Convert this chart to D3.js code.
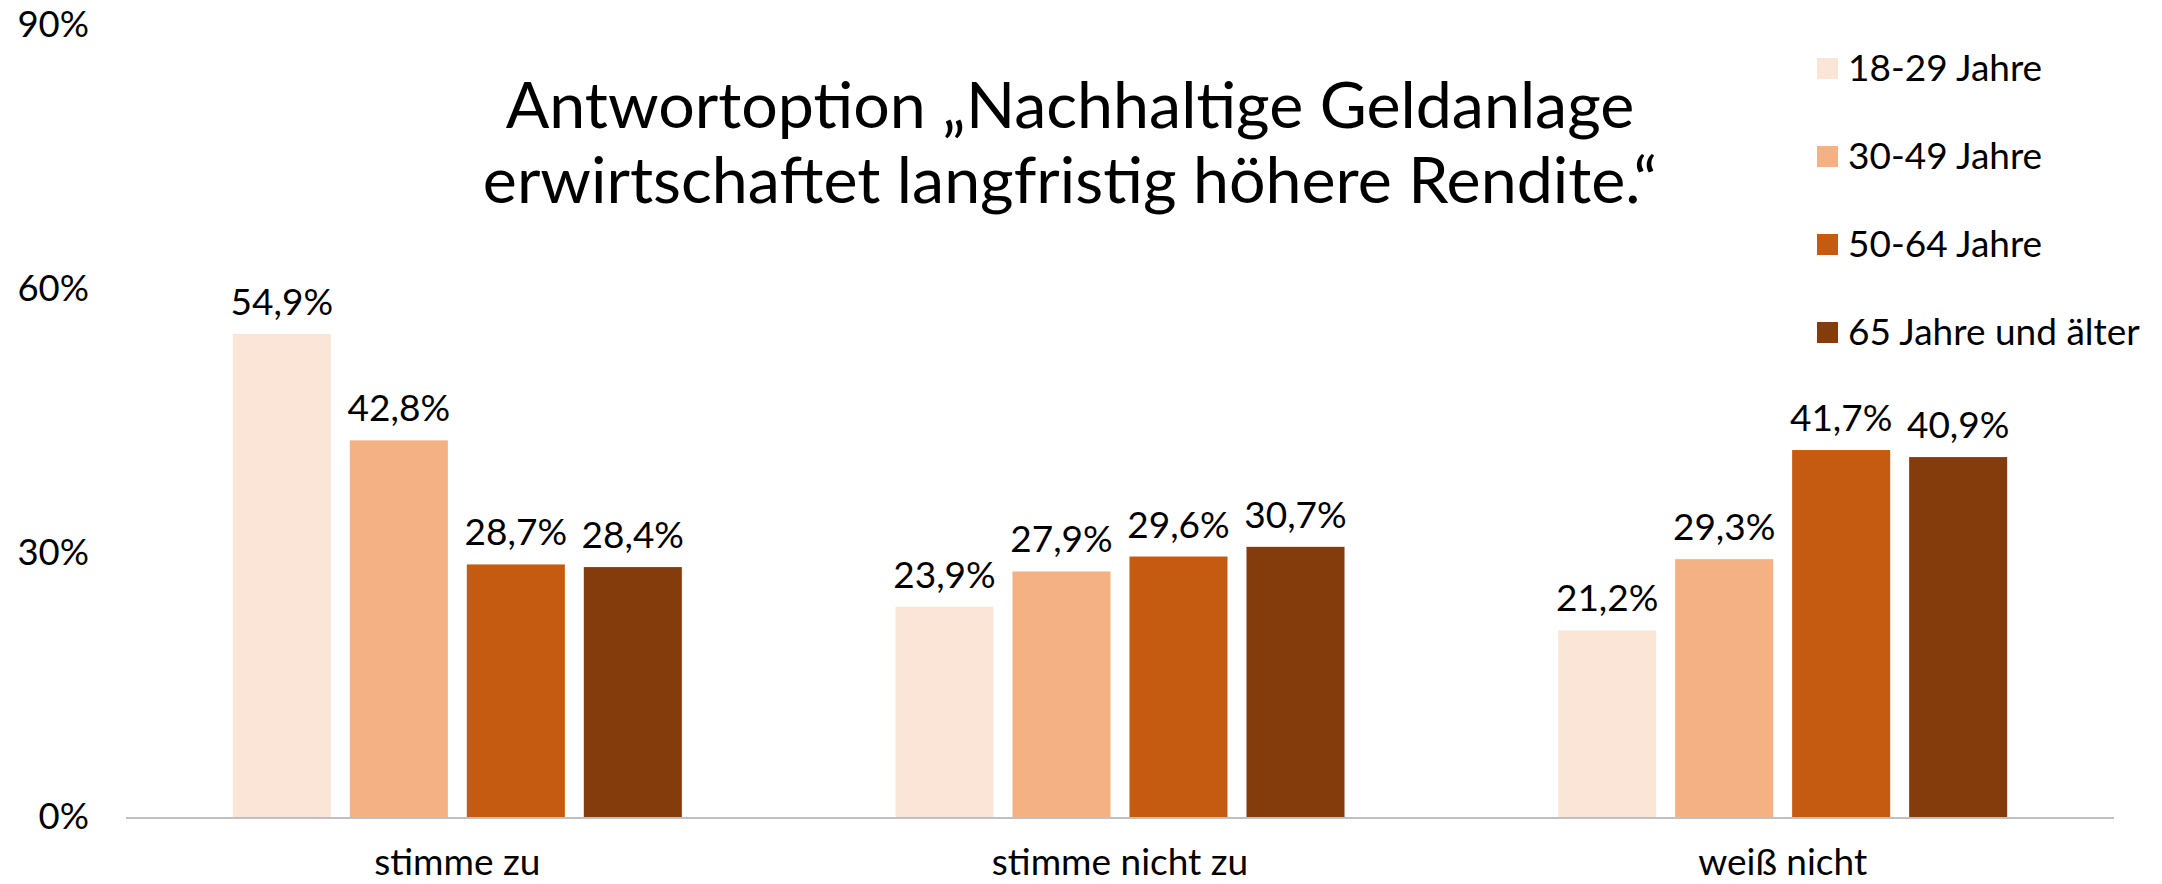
<!DOCTYPE html>
<html>
<head>
<meta charset="utf-8">
<script src="https://cdn.jsdelivr.net/npm/d3@7"></script>
<style>
  body { margin: 0; background: #fff; }
  svg { display: block; font-family: Lato, "Open Sans", sans-serif; }
</style>
</head>
<body>
<script>
// Grouped bar chart: answer option by age group

const width = 2162;
const height = 884;

const categories = ["stimme zu", "stimme nicht zu", "weiß nicht"];
const series = ["18-29 Jahre", "30-49 Jahre", "50-64 Jahre", "65 Jahre und älter"];
const colors = ["#FBE5D6", "#F4B183", "#C55A11", "#843C0C"];

const v1829 = [54.9, 23.9, 21.2];
const v3049 = [42.8, 27.9, 29.3];
const v5064 = [28.7, 29.6, 41.7];
const v65 = [28.4, 30.7, 40.9];

const yTicks = [0, 30, 60, 90];
const titleLines = ["Antwortoption „Nachhaltige Geldanlage", "erwirtschaftet langfristig höhere Rendite.“"];

const valuesBySeries = [v1829, v3049, v5064, v65];

const de = d3.formatLocale({ decimal: ",", thousands: ".", grouping: [3], currency: ["", " €"] });
const fmt = de.format(".1f");

const svg = d3.select("body")
    .append("svg")
    .attr("width", width)
    .attr("height", height);

const x0 = d3.scaleBand()
    .domain(categories)
    .range([126, 2114]);

const x1 = d3.scaleBand()
    .domain(series)
    .range([0, x0.bandwidth()])
    .paddingInner(0.162)
    .paddingOuter(0.913);

const y = d3.scaleLinear()
    .domain([0, 90])
    .range([817, 25]);

const color = d3.scaleOrdinal().domain(series).range(colors);

// y axis labels only
const yAxis = svg.append("g")
    .attr("transform", "translate(126,0)")
    .call(d3.axisLeft(y).tickValues(yTicks).tickSize(0).tickPadding(37).tickFormat(d => d + "%"));
yAxis.select(".domain").remove();
yAxis.selectAll("text")
    .style("font-family", "Lato, sans-serif")
    .style("font-size", "36.5px")
    .attr("fill", "#000");

// bars
const rows = categories.map((c, i) => ({ cat: c, vals: series.map((s, j) => ({ s, v: valuesBySeries[j][i] })) }));

const groups = svg.append("g")
    .selectAll("g")
    .data(rows)
    .join("g")
    .attr("transform", d => `translate(${x0(d.cat)},0)`);

groups.selectAll("rect")
    .data(d => d.vals)
    .join("rect")
    .attr("x", d => x1(d.s))
    .attr("y", d => y(d.v))
    .attr("width", x1.bandwidth())
    .attr("height", d => y(0) - y(d.v))
    .attr("fill", d => color(d.s));

groups.selectAll("text")
    .data(d => d.vals)
    .join("text")
    .attr("x", d => x1(d.s) + x1.bandwidth() / 2)
    .attr("y", d => y(d.v) - 19)
    .attr("text-anchor", "middle")
    .style("font-size", "37px")
    .attr("fill", "#000")
    .text(d => fmt(d.v) + "%");

// baseline
svg.append("line")
    .attr("x1", 126)
    .attr("x2", 2114)
    .attr("y1", y(0) + 1)
    .attr("y2", y(0) + 1)
    .attr("stroke", "#C0C0C0")
    .attr("stroke-width", 2);

// category labels (kept just inside the bottom edge)
svg.append("g")
    .selectAll("text")
    .data(categories)
    .join("text")
    .attr("x", d => x0(d) + x0.bandwidth() / 2)
    .attr("y", 875)
    .attr("text-anchor", "middle")
    .style("font-size", "37px")
    .attr("fill", "#000")
    .text(d => d);

// title
svg.append("g")
    .selectAll("text")
    .data(titleLines)
    .join("text")
    .attr("x", 1070)
    .attr("y", (d, i) => 128 + i * 75)
    .attr("text-anchor", "middle")
    .style("font-size", "64.5px")
    .attr("fill", "#000")
    .text(d => d);

// legend
const legend = svg.append("g")
    .selectAll("g")
    .data(series)
    .join("g")
    .attr("transform", (d, i) => `translate(1817,${68.5 + i * 88})`);

legend.append("rect")
    .attr("x", 0)
    .attr("y", -10.5)
    .attr("width", 21)
    .attr("height", 21)
    .attr("fill", d => color(d));

legend.append("text")
    .attr("x", 31)
    .attr("dy", "0.35em")
    .style("font-size", "37px")
    .attr("fill", "#000")
    .text(d => d);
</script>
</body>
</html>
